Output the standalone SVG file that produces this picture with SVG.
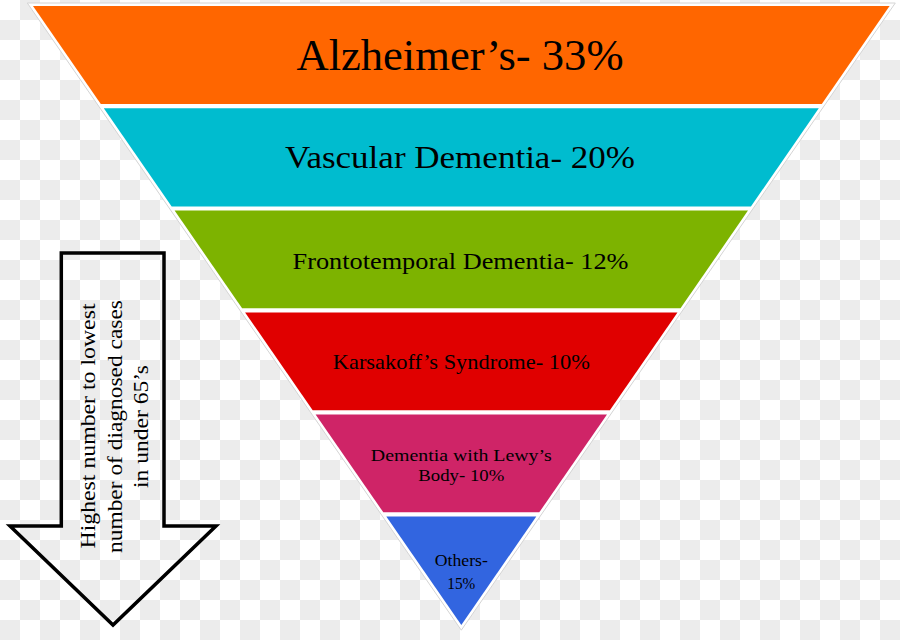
<svg xmlns="http://www.w3.org/2000/svg" width="900" height="640" viewBox="0 0 900 640">
  <defs>
    <pattern id="checker" x="0" y="0" width="40" height="40" patternUnits="userSpaceOnUse">
      <rect x="0" y="0" width="40" height="40" fill="#ffffff"/>
      <rect x="20" y="0" width="20" height="20" fill="#ececec"/>
      <rect x="0" y="20" width="20" height="20" fill="#ececec"/>
    </pattern>
  </defs>
  <style>
    .lbl { font-family: "Liberation Serif", "DejaVu Serif", serif; fill: #000000; text-anchor: middle; }
    .band { stroke: none; }
    .arrow { fill: none; stroke: #000000; stroke-width: 3.5; stroke-linejoin: miter; }
  </style>

  <rect x="0" y="0" width="900" height="640" fill="url(#checker)"/>

  <g id="funnel-outline">
    <polygon points="27.3,3 895.3,3 461.3,630.2" fill="#ffffff" stroke="#d4d4d4" stroke-width="1"/>
  </g>

  <g id="band-alzheimers">
    <polygon class="band" points="33,6 889.6,6 821.8,104 100.8,104" fill="#ff6600"/>
    <text class="lbl" x="460" y="70" font-size="44" textLength="327" lengthAdjust="spacingAndGlyphs">Alzheimer’s- 33%</text>
  </g>

  <g id="band-vascular">
    <polygon class="band" points="103.8,108.3 818.8,108.3 750.9,206.5 171.7,206.5" fill="#00bccf"/>
    <text class="lbl" x="460" y="168" font-size="31" textLength="350" lengthAdjust="spacingAndGlyphs">Vascular Dementia- 20%</text>
  </g>

  <g id="band-frontotemporal">
    <polygon class="band" points="174.6,210.6 748,210.6 680.5,308.2 242.1,308.2" fill="#7db300"/>
    <text class="lbl" x="460.5" y="269" font-size="24" textLength="336" lengthAdjust="spacingAndGlyphs">Frontotemporal Dementia- 12%</text>
  </g>

  <g id="band-karsakoff">
    <polygon class="band" points="245.1,312.5 677.5,312.5 609.9,410.2 312.7,410.2" fill="#e00000"/>
    <text class="lbl" x="461.3" y="369" font-size="21" textLength="257" lengthAdjust="spacingAndGlyphs">Karsakoff’s Syndrome- 10%</text>
  </g>

  <g id="band-lewy">
    <polygon class="band" points="315.6,414.4 607,414.4 539.3,512.3 383.3,512.3" fill="#cf2467"/>
    <text class="lbl" x="461.3" y="460.5" font-size="17.5" textLength="181" lengthAdjust="spacingAndGlyphs">Dementia with Lewy’s</text>
    <text class="lbl" x="461.3" y="480.5" font-size="17.5" textLength="86" lengthAdjust="spacingAndGlyphs">Body- 10%</text>
  </g>

  <g id="band-others">
    <polygon class="band" points="386.3,516.6 536.3,516.6 461.3,625" fill="#3265e0"/>
    <text class="lbl" x="461.3" y="566" font-size="17" textLength="53" lengthAdjust="spacingAndGlyphs">Others-</text>
    <text class="lbl" x="461.3" y="589" font-size="17" textLength="28" lengthAdjust="spacingAndGlyphs">15%</text>
  </g>

  <g id="connectors">
    <g id="direction-arrow">
      <polygon class="arrow" points="61.3,253 164,253 164,526 216,526 113,625 10,526 61.3,526"/>
      <text class="lbl" font-size="21" transform="translate(95,426) rotate(-90)" x="0" y="0" textLength="245" lengthAdjust="spacingAndGlyphs">Highest number to lowest</text>
      <text class="lbl" font-size="21" transform="translate(121.5,426.5) rotate(-90)" x="0" y="0" textLength="253" lengthAdjust="spacingAndGlyphs">number of diagnosed cases</text>
      <text class="lbl" font-size="21" transform="translate(148,426.5) rotate(-90)" x="0" y="0" textLength="123" lengthAdjust="spacingAndGlyphs">in under 65’s</text>
    </g>
  </g>
</svg>
